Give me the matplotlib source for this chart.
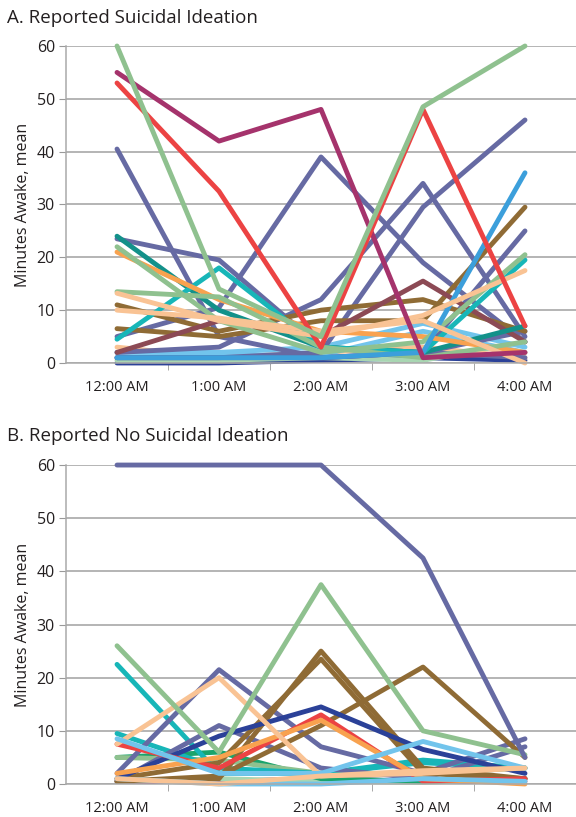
import matplotlib
matplotlib.use("Agg")
import matplotlib.pyplot as plt
from matplotlib.ticker import FixedLocator

plt.rcParams['font.family'] = ['Open Sans', 'DejaVu Sans']

hours = ["12:00 AM", "1:00 AM", "2:00 AM", "3:00 AM", "4:00 AM"]
yticks = [0, 10, 20, 30, 40, 50, 60]

# Panel A: reported suicidal ideation (minutes awake, mean)
a_lightgreen1 = [60, 14, 5, 48.5, 60]
a_magenta = [55, 42, 48, 1, 2]
a_red = [53, 32.5, 3, 48, 7]
a_slate1 = [40.5, 5, 1, 2, 1]
a_slate2 = [23.5, 19.5, 3, 2, 6]
a_slate3 = [5, 10.5, 39, 19, 4]
a_slate4 = [2, 3, 12, 34, 5]
a_slate5 = [1, 1, 2, 29.5, 46]
a_slate6 = [1, 1, 1, 2, 25]
a_blue = [1, 1, 1, 2, 36]
a_brown1 = [6.5, 5, 8, 8, 29.5]
a_maroon = [2, 8, 5, 15.5, 4]
a_teal = [24, 10, 3, 2, 7]
a_cyan = [4.5, 18, 3, 2, 19.5]
a_orange = [21, 12, 6, 5, 2]
a_lightgreen2 = [22, 8, 2, 4, 20.5]
a_lightgreen3 = [13.5, 12.5, 3, 1, 4]
a_peach1 = [13.2, 8, 5, 9, 17.5]
a_peach2 = [10, 8.5, 6, 8, 0]
a_brown2 = [11, 6, 10, 12, 6]
a_skyblue1 = [2, 2, 3, 7.5, 3]
a_skyblue2 = [1, 1.5, 1.5, 6, 2]
a_palegreen = [0.5, 0.5, 1, 0.5, 4]
a_navy = [0, 0, 0.5, 1, 0.5]
a_peach3 = [3, 1, 2, 3, 1]

# Panel B: reported no suicidal ideation
b_slate1 = [60, 60, 60, 42.5, 5]
b_lightgreen1 = [26, 6, 37.5, 10, 5.5]
b_cyan1 = [22.5, 2, 2, 4, 3]
b_slate2 = [2, 21.5, 7, 2, 8.5]
b_peach1 = [7.5, 20, 1.5, 2, 3]
b_brown1 = [0.5, 1, 25, 3, 1]
b_brown2 = [1, 4, 23.5, 2, 1]
b_brown3 = [0.5, 1.5, 11, 22, 5]
b_navy = [1, 9, 14.5, 6.5, 2]
b_red = [7.5, 3, 13, 0.5, 1]
b_orange = [2, 5, 12, 1, 0]
b_slate3 = [0.5, 11, 3, 1, 7]
b_green = [5, 6, 1, 0.5, 1]
b_lightgreen2 = [5, 4.5, 2, 2, 3]
b_cyan2 = [9.5, 3, 2, 4.5, 3]
b_skyblue1 = [8.5, 2, 2, 8, 3]
b_skyblue2 = [1, 0, 0, 1, 0.5]
b_peach2 = [1, 0, 1.5, 2.5, 3]
b_magenta = [0.5, 0.5, 1, 0.5, 0.5]
b_palegreen = [0.5, 1, 0.5, 0.3, 1]

C = {
    'slate': '#666aa3', 'red': '#ec4343', 'magenta': '#a5336c', 'lightgreen': '#8fc18f',
    'teal': '#13918a', 'cyan': '#17b6b8', 'orange': '#f8a24f', 'peach': '#f9c394',
    'brown': '#8f6b35', 'maroon': '#8c4a55', 'skyblue': '#72c4ec', 'blue': '#3c9fdb',
    'navy': '#2b4198', 'green': '#1aa46c', 'palegreen': '#a8d6b2',
}

series_a = [
    (a_navy, 'navy'), (a_palegreen, 'palegreen'), (a_peach3, 'peach'),
    (a_skyblue2, 'skyblue'), (a_skyblue1, 'skyblue'),
    (a_slate6, 'slate'), (a_slate5, 'slate'), (a_slate4, 'slate'), (a_slate1, 'slate'),
    (a_slate2, 'slate'), (a_slate3, 'slate'), (a_brown2, 'brown'), (a_brown1, 'brown'),
    (a_maroon, 'maroon'), (a_teal, 'teal'), (a_cyan, 'cyan'), (a_orange, 'orange'),
    (a_lightgreen2, 'lightgreen'), (a_lightgreen3, 'lightgreen'), (a_blue, 'blue'),
    (a_peach2, 'peach'), (a_peach1, 'peach'),
    (a_magenta, 'magenta'), (a_red, 'red'), (a_lightgreen1, 'lightgreen'),
]

series_b = [
    (b_magenta, 'magenta'), (b_palegreen, 'palegreen'), (b_green, 'green'),
    (b_lightgreen2, 'lightgreen'), (b_cyan2, 'cyan'), (b_cyan1, 'cyan'),
    (b_slate3, 'slate'), (b_slate2, 'slate'), (b_brown3, 'brown'), (b_brown1, 'brown'),
    (b_brown2, 'brown'), (b_navy, 'navy'), (b_red, 'red'), (b_orange, 'orange'),
    (b_peach1, 'peach'), (b_lightgreen1, 'lightgreen'), (b_skyblue1, 'skyblue'),
    (b_skyblue2, 'skyblue'), (b_peach2, 'peach'), (b_slate1, 'slate'),
]

fig = plt.figure(figsize=(5.76, 8.17), dpi=100)

def style(ax, title, title_y):
    ax.set_xlim(-0.5, 4.5)
    ax.set_ylim(0, 60)
    ax.set_yticks(yticks)
    ax.set_xticks(range(len(hours)))
    ax.set_xticklabels(hours, fontsize=10.5, color='#231f20')
    ax.xaxis.set_minor_locator(FixedLocator([0.5, 1.5, 2.5, 3.5]))
    ax.tick_params(axis='x', which='major', length=0, pad=12)
    ax.tick_params(axis='x', which='minor', length=5, color='#999999', direction='out')
    ax.tick_params(axis='y', length=5, color='#999999', labelsize=11.5, labelcolor='#231f20', pad=3)
    ax.grid(axis='y', color='#a0a0a0', linewidth=1.1)
    ax.set_axisbelow(True)
    for s in ['top', 'right']:
        ax.spines[s].set_visible(False)
    for s in ['left', 'bottom']:
        ax.spines[s].set_color('#aaaaaa')
        ax.spines[s].set_linewidth(1.1)
    ax.set_ylabel("Minutes Awake, mean", fontsize=11.5, color='#231f20', labelpad=4)
    fig.text(0.012, title_y, title, fontsize=13.5, color='#231f20', va='center', ha='left')

axA = fig.add_axes([0.1146, 0.5557, 0.8854, 0.388])
axB = fig.add_axes([0.1146, 0.0404, 0.8854, 0.3904])

x = list(range(len(hours)))
for vals, c in series_a:
    axA.plot(x, vals, color=C[c], linewidth=3.5, solid_capstyle='round', solid_joinstyle='round', clip_on=False)
for vals, c in series_b:
    axB.plot(x, vals, color=C[c], linewidth=3.5, solid_capstyle='round', solid_joinstyle='round', clip_on=False)

style(axA, "A. Reported Suicidal Ideation", 1 - 18 / 817)
style(axB, "B. Reported No Suicidal Ideation", 1 - 436 / 817)

fig.savefig("out.png", dpi=100)
